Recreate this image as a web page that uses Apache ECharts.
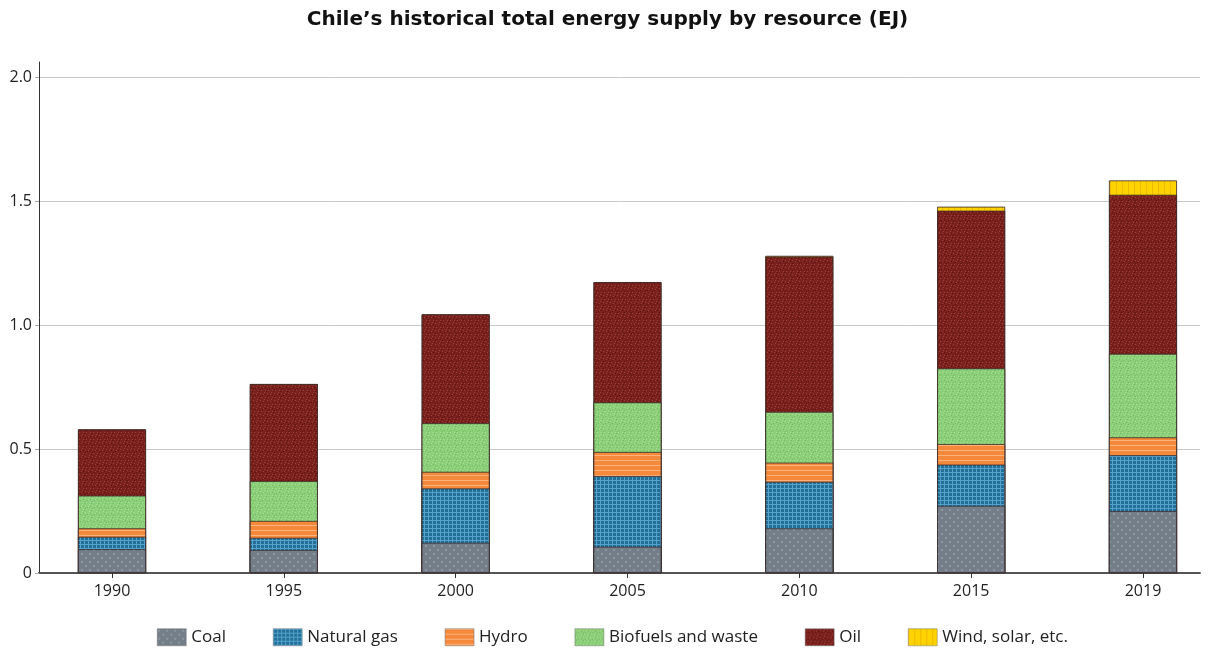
<!DOCTYPE html>
<html><head><meta charset="utf-8">
<script src="https://cdn.jsdelivr.net/npm/echarts@6/dist/echarts.min.js"></script>
<style>html,body{margin:0;padding:0;background:#fff}#c{width:1215px;height:654px}</style>
</head><body><div id="c"></div>
<script>
const years = ['1990','1995','2000','2005','2010','2015','2019'];
const coal    = [0.096, 0.093, 0.122, 0.106, 0.180, 0.271, 0.250];
const natGas  = [0.050, 0.049, 0.219, 0.285, 0.188, 0.166, 0.225];
const hydro   = [0.034, 0.068, 0.067, 0.097, 0.077, 0.083, 0.072];
const biofuel = [0.132, 0.161, 0.196, 0.200, 0.205, 0.305, 0.337];
const oil     = [0.267, 0.391, 0.439, 0.485, 0.626, 0.636, 0.641];
const wind    = [0, 0, 0, 0, 0.003, 0.016, 0.058];
const yTicks  = [0, 0.5, 1.0, 1.5, 2.0];

function pat(size, base, draw){
  const c = document.createElement('canvas'); c.width = size; c.height = size;
  const g = c.getContext('2d'); g.fillStyle = base; g.fillRect(0,0,size,size);
  draw(g); return {image: c, repeat: 'repeat'};
}
function specks(g, pts, col){ g.fillStyle = col; pts.forEach(p => g.fillRect(p[0], p[1], 1, 1)); }
const coalPat = pat(8, '#737e89', g => { g.fillStyle = '#8d97a0'; g.fillRect(1,1,2,2); g.fillRect(5,5,2,2); });
const gasPat = pat(4, '#236f98', g => { g.fillStyle = '#54a3cc'; g.fillRect(0,0,4,1); g.fillRect(0,0,1,4); });
const hydroPat = pat(5, '#f5893b', g => { g.fillStyle = '#fbb27c'; g.fillRect(0,0,5,1); });
const bioPat = pat(7, '#8bcf78', g => {
  specks(g, [[1,1],[4,2],[6,5],[2,5],[5,0]], '#a9de96');
  specks(g, [[3,3],[0,6],[6,2],[1,4]], '#74ba62');
});
const oilPat = pat(7, '#7a201d', g => {
  specks(g, [[1,1],[4,2],[6,5],[2,5],[5,0]], '#9c403a');
  specks(g, [[3,3],[0,6],[6,2],[1,4]], '#5c1411');
});
const windPat = pat(6, '#ffd300', g => { g.fillStyle = '#f2b900'; g.fillRect(0,0,1,6); });

const font = '"Open Sans", "Liberation Sans", sans-serif';
const idx = years.map((y, i) => i);
const layers = [
  {name: 'Coal', vals: coal, color: coalPat},
  {name: 'Natural gas', vals: natGas, color: gasPat},
  {name: 'Hydro', vals: hydro, color: hydroPat},
  {name: 'Biofuels and waste', vals: biofuel, color: bioPat},
  {name: 'Oil', vals: oil, color: oilPat},
  {name: 'Wind, solar, etc.', vals: wind, color: windPat}
];
// cumulative totals: each layer drawn from 0 up to its stacked top, upper layers drawn first
let run = years.map(() => 0);
layers.forEach(l => { run = run.map((r, i) => r + l.vals[i]); l.cum = run.slice(); });
const border = {borderColor: '#3a2a2a', borderWidth: 0.8};
const series = layers.slice().reverse().map(l => ({
  name: l.name, type: 'bar', barGap: '-100%', barWidth: 68,
  data: l.cum.map((v, i) => [i, v]),
  itemStyle: Object.assign({color: l.color}, border), emphasis: {disabled: true}
}));

const chart = echarts.init(document.getElementById('c'), null, {renderer: 'canvas'});
chart.setOption({
  animation: false,
  backgroundColor: '#fff',
  title: {text: 'Chile\u2019s historical total energy supply by resource (EJ)', left: 'center', top: 5,
    textStyle: {fontFamily: '"DejaVu Sans", sans-serif', fontWeight: 'bold', fontSize: 20, color: '#111'}},
  legend: {bottom: 3, left: 152, icon: 'rect', itemWidth: 29, itemHeight: 17, itemGap: 47,
    textStyle: {fontFamily: font, fontSize: 17, color: '#222'},
    data: layers.map(l => l.name),
    itemStyle: {borderColor: '#777', borderWidth: 0.5}},
  grid: [
    {left: 39, width: 1161, top: 77, height: 496},
    {left: 39, width: 1161, top: 62, height: 511}
  ],
  xAxis: [
    {type: 'value', gridIndex: 0, min: -0.4248, max: 6.3318,
      axisLine: {show: true, onZero: false, lineStyle: {color: '#555', width: 2}},
      axisTick: {show: true, customValues: idx, length: 5, lineStyle: {color: '#333'}},
      axisLabel: {customValues: idx, fontFamily: font, fontSize: 16, color: '#222', margin: 10,
        formatter: v => years[Math.round(v)]},
      splitLine: {show: false}},
    {type: 'value', gridIndex: 1, min: 0, max: 1, show: false}
  ],
  yAxis: [
    {type: 'value', gridIndex: 0, min: yTicks[0], max: yTicks[yTicks.length-1], interval: 0.5,
      position: 'left',
      axisLine: {show: false, onZero: false},
      axisTick: {show: true, length: 4, lineStyle: {color: '#aaa'}},
      axisLabel: {fontFamily: font, fontSize: 16, color: '#222', margin: 7,
        formatter: v => v === 0 ? '0' : v.toFixed(1)},
      splitLine: {show: true, lineStyle: {color: '#c8c8c8', width: 1}}},
    {type: 'value', gridIndex: 1, min: 0, max: 1, position: 'left',
      axisLine: {show: true, onZero: false, lineStyle: {color: '#333', width: 1}},
      axisTick: {show: false}, axisLabel: {show: false}, splitLine: {show: false}}
  ],
  series: series
});
</script></body></html>
